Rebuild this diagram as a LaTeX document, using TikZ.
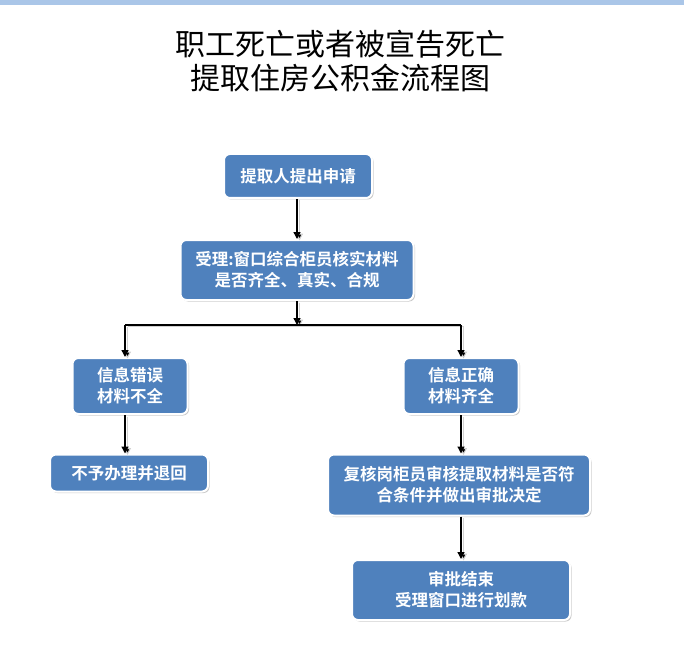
\documentclass[tikz,border=0pt]{standalone}
\usepackage{fontspec}
\newfontfamily\cjk{Noto Sans CJK SC}
\newfontfamily\cjkb{Noto Sans CJK SC Bold}
\usetikzlibrary{arrows.meta,shadows}
\definecolor{boxblue}{RGB}{79,129,189}
\definecolor{rulerblue}{RGB}{170,198,232}
\tikzset{
  flowbox/.style={rectangle, rounded corners=6pt, fill=boxblue, draw=white, line width=2pt,
    text=white, font=\cjkb\fontsize{16.5}{21}\selectfont, align=center, inner sep=0pt,
    drop shadow={shadow xshift=1.5pt, shadow yshift=-1.5pt, fill=black!30, opacity=0.7}},
  connbase/.style={draw=black, line width=1.3pt,
    preaction={draw=black!18, line width=1pt, transform canvas={xshift=2.5pt, yshift=-1.5pt}}},
  conn/.style={connbase, -{Triangle[length=7pt,width=7pt,fill=black]}},
  connplain/.style={connbase},
  titletext/.style={font=\cjk\fontsize{30}{34}\selectfont, align=center}
}
\begin{document}
\begin{tikzpicture}[x=1pt,y=-1pt]
\useasboundingbox (0,0) rectangle (684,652);
\fill[rulerblue] (0,0) rectangle (684,5);
\node[titletext] (title) at (340,61) {职工死亡或者被宣告死亡\\提取住房公积金流程图};

\node[flowbox, minimum width=148pt, minimum height=44pt] (b1) at (298,176) {提取人提出申请};
\node[flowbox, minimum width=233pt, minimum height=60pt] (b2) at (297,270) {受理:窗口综合柜员核实材料\\是否齐全、真实、合规};
\node[flowbox, minimum width=115pt, minimum height=56pt] (b3) at (130,386) {信息错误\\材料不全};
\node[flowbox, minimum width=115pt, minimum height=56pt] (b4) at (461,386) {信息正确\\材料齐全};
\node[flowbox, minimum width=158pt, minimum height=37pt] (b5) at (129,473) {不予办理并退回};
\node[flowbox, minimum width=262pt, minimum height=61pt] (b6) at (459,485) {复核岗柜员审核提取材料是否符\\合条件并做出审批决定};
\node[flowbox, minimum width=218pt, minimum height=60pt] (b7) at (461,590) {审批结束\\受理窗口进行划款};

\coordinate (split) at (297,325);
\coordinate (splitL) at (125,325);
\coordinate (splitR) at (461,325);
\draw[conn] (b1.south -| b2.north) -- (b2.north);
\draw[conn] (b2.south) -- (split);
\draw[connplain] (splitL) -- (splitR);
\draw[conn] (splitL) -- (splitL |- b3.north);
\draw[conn] (splitR) -- (b4.north);
\draw[conn] (splitL |- b3.south) -- (splitL |- b5.north);
\draw[conn] (b4.south) -- (b4.south |- b6.north);
\draw[conn] (b7.north |- b6.south) -- (b7.north);
\end{tikzpicture}
\end{document}
